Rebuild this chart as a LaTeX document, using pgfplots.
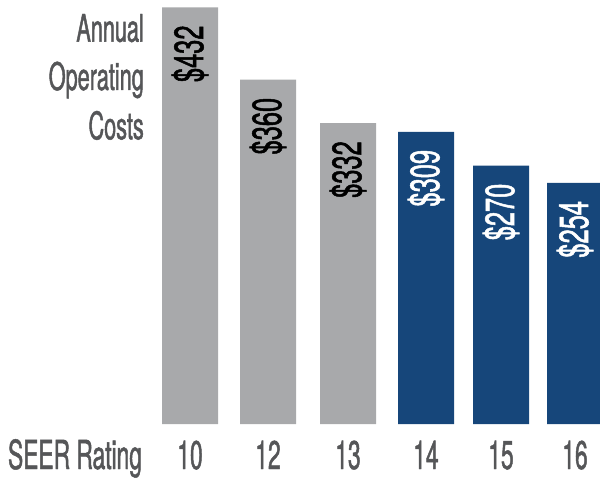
\documentclass[border=0pt]{standalone}
\usepackage{fontspec}
\setmainfont[FakeStretch=0.57,FakeBold=1.2]{TeX Gyre Heros}
\newfontfamily\labelfont[FakeStretch=0.62,FakeBold=1.2]{TeX Gyre Heros}
\usepackage{pgfplots}
\pgfplotsset{compat=1.18}
\definecolor{bargray}{RGB}{168,169,171}
\definecolor{barblue}{RGB}{22,70,122}
\definecolor{txtgray}{RGB}{85,86,88}
\begin{document}
\begin{tikzpicture}
\begin{axis}[
  at={(0pt,0pt)}, anchor=south west,
  scale only axis, width=600pt, height=424pt,
  xmin=0, xmax=600, ymin=0, ymax=439.6,
  enlargelimits=false, clip=false,
  axis line style={draw=none},
  ytick=\empty,
  xtick={75,190,268,348,426,501,575},
  xticklabels={SEER Rating,10,12,13,14,15,16},
  major tick length=0pt,
  xticklabel style={anchor=base, yshift=-45pt, inner sep=0pt,
    font=\fontsize{40}{48}\selectfont, text=txtgray},
  ybar, bar width=56pt, bar shift=0pt,
  point meta=explicit symbolic,
  nodes near coords,
  nodes near coords style={rotate=90, anchor=east, xshift=-18pt,
    inner sep=0pt, font=\labelfont\fontsize{41}{48}\selectfont},
]
\addplot[fill=bargray, draw=none, bar shift=0pt, nodes near coords style={text=black}]
  coordinates {(190,432) [\$432] (268,357) [\$360] (348,312) [\$332]};
\addplot[fill=barblue, draw=none, bar shift=0pt, nodes near coords style={text=white}]
  coordinates {(426,303) [\$309] (501,268) [\$270] (575,250) [\$254]};
\end{axis}
\begin{scope}[every node/.style={anchor=base east, inner sep=0pt, text=txtgray,
    font=\fontsize{38}{48}\selectfont}]
\node at (144pt,382.3pt) {Annual};
\node at (144pt,334pt) {Operating};
\node at (144pt,284.7pt) {Costs};
\end{scope}
\pgfresetboundingbox
\path[use as bounding box] (0pt,-53pt) rectangle (600pt,424pt);
\end{tikzpicture}
\end{document}
